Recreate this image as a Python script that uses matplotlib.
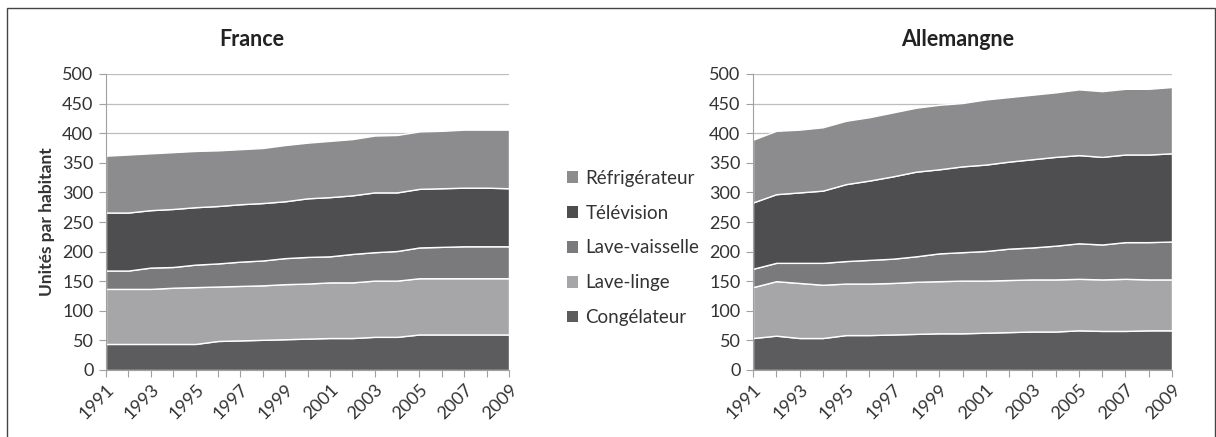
import numpy as np
import matplotlib
matplotlib.use('Agg')
import matplotlib.pyplot as plt
from matplotlib.patches import Rectangle, Patch

plt.rcParams['font.family'] = ['Lato', 'DejaVu Sans']

years = list(range(1991, 2010))
series_names = ['Congélateur', 'Lave-linge', 'Lave-vaisselle', 'Télévision', 'Réfrigérateur']
colors = ['#5c5c5e', '#a6a6a8', '#7a7a7c', '#4e4e50', '#8c8c8e']

# France, units per inhabitant (stacked from bottom)
fr_congelateur = [44, 44, 44, 44, 44, 49, 50, 51, 52, 53, 54, 54, 56, 56, 60, 60, 60, 60, 60]
fr_lave_linge = [93, 93, 93, 95, 96, 92, 92, 92, 93, 93, 94, 94, 95, 95, 95, 95, 95, 95, 95]
fr_lave_vaisselle = [31, 31, 36, 35, 38, 39, 41, 42, 44, 45, 44, 48, 48, 50, 52, 53, 54, 54, 54]
fr_television = [98, 98, 97, 98, 97, 97, 97, 97, 96, 99, 100, 99, 101, 99, 99, 99, 99, 99, 98]
fr_refrigerateur = [96, 98, 96, 96, 95, 94, 93, 93, 95, 94, 95, 95, 96, 97, 97, 97, 98, 98, 99]

# Allemagne
de_congelateur = [54, 58, 54, 54, 59, 59, 60, 61, 62, 62, 63, 64, 65, 65, 67, 66, 66, 67, 67]
de_lave_linge = [86, 92, 93, 90, 87, 87, 87, 88, 88, 89, 88, 88, 88, 88, 87, 87, 88, 86, 86]
de_lave_vaisselle = [31, 31, 34, 37, 38, 40, 41, 43, 47, 48, 50, 53, 54, 57, 60, 59, 62, 63, 64]
de_television = [112, 116, 119, 122, 130, 134, 139, 143, 142, 145, 146, 147, 149, 150, 149, 148, 148, 148, 149]
de_refrigerateur = [106, 107, 106, 107, 107, 107, 108, 108, 109, 107, 110, 109, 109, 109, 111, 111, 111, 111, 112]

france = [fr_congelateur, fr_lave_linge, fr_lave_vaisselle, fr_television, fr_refrigerateur]
allemagne = [de_congelateur, de_lave_linge, de_lave_vaisselle, de_television, de_refrigerateur]

fig = plt.figure(figsize=(12.16, 4.37), dpi=100)
W, H = 1216, 437

# outer frame
fig.patches.append(Rectangle((7 / W, -0.01), (1215 - 7) / W, (H - 8) / H + 0.01,
                             transform=fig.transFigure, fill=False,
                             edgecolor='#444444', linewidth=1.0))


def panel(left, right, top, bottom, data, title, title_x, ylabel=None):
    ax = fig.add_axes([left / W, 1 - bottom / H, (right - left) / W, (bottom - top) / H])
    ax.stackplot(years, *data, colors=colors, edgecolor='white', linewidth=1.0)
    ax.set_xlim(1991, 2009)
    ax.set_ylim(0, 500)
    ax.set_yticks(range(0, 501, 50))
    ax.set_xticks(years)
    ax.set_xticklabels([str(y) if (y - 1991) % 2 == 0 else '' for y in years],
                       rotation=45, ha='right', va='top', rotation_mode='anchor')
    ax.grid(axis='y', color='#bdbdbd', linewidth=0.9)
    ax.set_axisbelow(True)
    for s in ['top', 'right']:
        ax.spines[s].set_visible(False)
    ax.spines['left'].set_color('#a0a0a0')
    ax.spines['bottom'].set_color('#a0a0a0')
    ax.tick_params(axis='x', direction='out', length=5, color='#a0a0a0',
                   labelsize=13, labelcolor='#333333', pad=3)
    ax.tick_params(axis='y', direction='out', length=5, color='#a0a0a0',
                   labelsize=13, labelcolor='#333333', pad=4)
    fig.text(title_x / W, 1 - 40 / H, title, fontsize=15.5, fontweight='bold',
             color='#222222', ha='center', va='center')
    if ylabel:
        ax.set_ylabel(ylabel, fontsize=12.5, fontweight='bold', color='#333333', labelpad=5)
    return ax


panel(106, 509, 74, 370, france, 'France', 252, 'Unités par habitant')
panel(753, 1172, 74, 370, allemagne, 'Allemangne', 958)

handles = [Patch(facecolor=c, edgecolor='none') for c in colors]
fig.legend(handles[::-1], series_names[::-1], loc='center left',
           bbox_to_anchor=(550 / W, 1 - 248 / H), frameon=False,
           fontsize=13.5, handlelength=0.6, handleheight=0.6,
           handletextpad=0.4, labelspacing=0.95, labelcolor='#333333')

fig.savefig('out.png', dpi=100, facecolor='white')
